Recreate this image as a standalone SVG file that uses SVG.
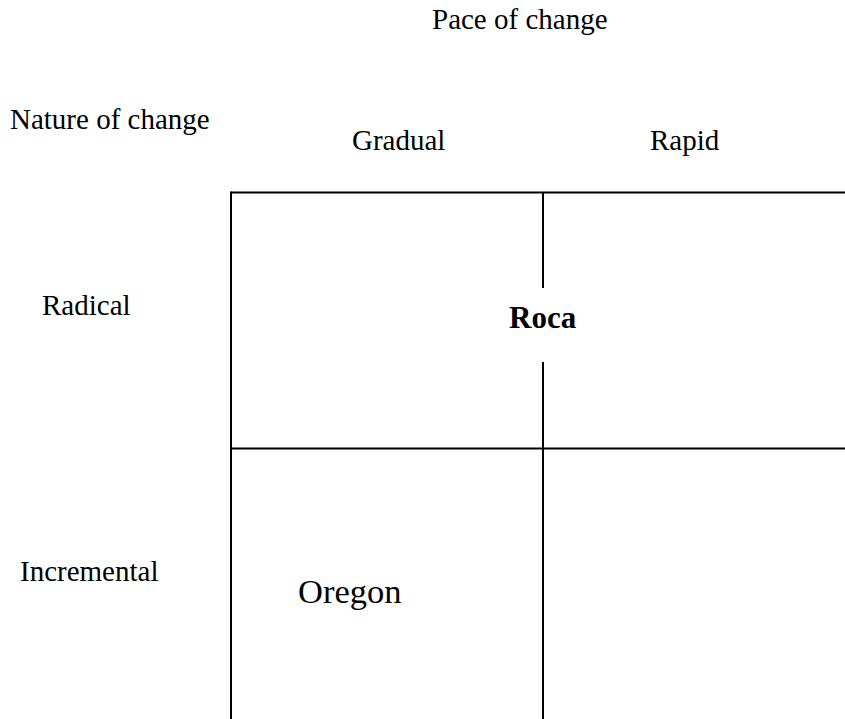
<svg xmlns="http://www.w3.org/2000/svg" width="845" height="719" viewBox="0 0 845 719">
<style>
  .t { font-family: "Liberation Serif", "Times New Roman", serif; font-size: 29px; fill: #000; }
  .big { font-size: 34.5px; }
  .bold { font-weight: bold; font-size: 31px; }
  .ln { stroke: #000; stroke-width: 2; fill: none; }
</style>
<rect width="845" height="719" fill="#fff"/>
<g id="grid">
  <line class="ln" x1="231" y1="192.5" x2="845" y2="192.5"/>
  <line class="ln" x1="231" y1="448.5" x2="845" y2="448.5"/>
  <line class="ln" x1="231" y1="191.5" x2="231" y2="719"/>
  <line class="ln" x1="543" y1="192.5" x2="543" y2="288"/>
  <line class="ln" x1="543" y1="362" x2="543" y2="719"/>
</g>
<g id="labels">
  <text id="pace" class="t" x="432" y="29">Pace of change</text>
  <text id="nature" class="t" x="10" y="129">Nature of change</text>
  <text id="gradual" class="t" x="352" y="150">Gradual</text>
  <text id="rapid" class="t" x="650" y="150">Rapid</text>
  <text id="radical" class="t" x="42" y="315">Radical</text>
  <text id="incremental" class="t" x="20" y="581">Incremental</text>
</g>
<g id="roca"><text class="t bold" x="509" y="328">Roca</text></g>
<g id="oregon"><text class="t big" x="298" y="603">Oregon</text></g>
</svg>
